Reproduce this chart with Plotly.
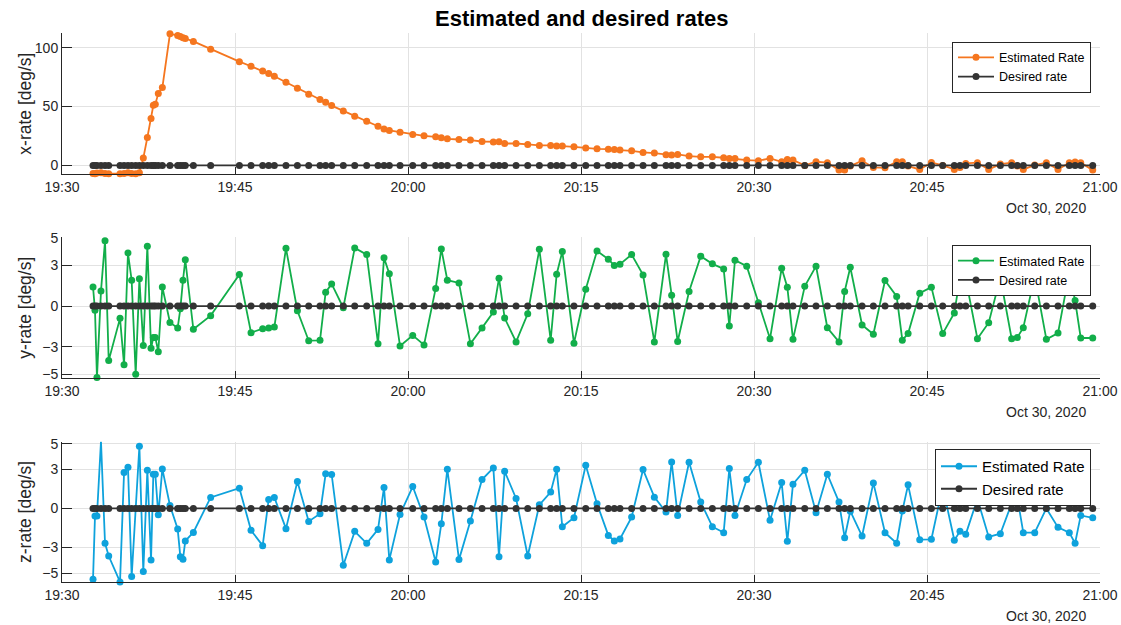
import pandas as pd
import plotly.graph_objects as go

# ---- data (minutes after 19:30 on 2020-10-30) ----
t_min = [2.69, 2.86, 3.03, 3.38, 3.73, 4.05, 5.03, 5.38, 5.72, 6.04, 6.39, 6.71, 7.05, 7.40,
         7.72, 7.92, 8.09, 8.35, 8.70, 9.36, 10.03, 10.26, 10.49, 10.69, 11.39, 12.89, 15.38,
         16.39, 17.40, 17.92, 18.41, 19.42, 20.41, 21.39, 22.37, 22.86, 23.38, 24.39, 25.38,
         26.42, 27.40, 27.92, 28.38, 29.31,
         30.41, 31.39, 32.40, 32.89, 33.41, 34.42, 35.41, 36.42, 37.40, 37.89, 38.38, 39.37,
         40.38, 41.39, 42.37, 42.89, 43.38, 44.39, 45.41, 46.39, 47.37, 47.89, 48.38, 49.39,
         50.38, 51.36, 52.37, 52.86, 53.38, 54.37, 55.38, 56.39, 57.37, 57.86, 58.35,
         59.37, 60.38, 61.39, 62.40, 62.89, 63.38, 64.40, 65.38, 66.36, 67.37, 67.86, 68.35,
         69.37, 70.35, 71.36, 72.37, 72.86, 73.36, 74.37, 75.38, 76.36, 77.37, 77.86, 78.36,
         79.37, 80.35, 81.36, 82.34, 82.83, 83.35, 84.34, 85.35, 86.36, 87.34, 87.84, 88.33,
         89.37]

x_rate = [-6.8, -7.0, -6.5, -6.2, -6.8, -7.0, -7.0, -6.8, -6.2, -6.8, -7.0, -6.2, 6.2, 23.7,
          39.8, 51.0, 52.0, 61.0, 66.1, 111.8, 110.4, 109.4, 108.5, 107.8, 105.3, 98.6, 88.1,
          84.2, 80.2, 78.0, 75.7, 70.6, 65.5, 60.5, 56.0, 53.7, 50.8, 46.3, 41.8, 37.6, 33.3,
          31.0, 29.7, 28.2,
          26.3, 25.1, 24.3, 23.4, 22.6, 22.0, 21.5, 20.3, 19.8, 20.0, 18.6, 18.6, 17.8, 17.0,
          17.0, 16.4, 16.4, 15.8, 14.7, 14.1, 13.8, 13.6, 13.0, 12.4, 11.0, 10.5, 9.0, 8.8,
          9.3, 7.9, 7.3, 7.3, 6.5, 5.9, 5.9,
          4.5, 4.0, 5.9, 3.1, 5.1, 4.5, 0.0, 3.1, 2.3, -4.0, -4.0, -0.6, 4.0, -1.7, -2.0, 3.1,
          3.1, -0.6, -3.4, 2.5, 0.0, -3.4, -1.7, 1.7, 2.3, -3.4, 1.1, 2.3, -0.6, -3.4, 0.3,
          2.3, -3.4, 2.3, 2.8, 2.3, -4.0]

y_rate = [1.4, -0.3, -5.25, 1.1, 4.8, -4.0, -0.9, -4.3, 3.9, 1.9, -5.0, 2.0, -2.9, 4.4, -3.1,
          -2.3, -2.3, -3.35, 1.4, -1.2, -1.6, -0.2, 1.9, 3.4, -1.7, -0.7, 2.32, -1.95, -1.66,
          -1.6, -1.54, 4.24, -0.34, -2.54, -2.51, 1.02, 1.63, -0.12, 4.27, 3.78, -2.76, 3.54,
          2.37, -2.93,
          -2.15, -2.85, 1.3, 4.2, 1.9, 1.7, -2.76, -1.6, -0.44, 2.05, -0.88, -2.63, -0.56,
          4.17, -2.5, 2.34, 4.0, -2.73, 1.24, 4.05, 3.44, 2.98, 3.07, 3.78, 2.29, -2.63, 3.8,
          0.8, -2.6, 1.07, 3.66, 3.1, 2.73, -1.46, 3.37,
          2.93, 0.24, -2.39, 2.78, 1.39, -2.44, 1.46, 2.93, -1.59, -2.63, 1.07, 2.85, -1.39,
          -2.07, 1.88, 0.71, -2.5, -2.02, 0.95, 1.39, -2.02, -0.51, 2.12, 2.0, -2.39, -1.22,
          2.1, -2.39, -2.3, -1.59, 2.2, -2.44, -1.98, 2.5, 0.41, -2.34, -2.34]

z_rate = [-5.46, -0.59, -0.59, 5.18, -2.69, -3.67, -5.67, 2.77, 3.18, -5.26, 0.0, 4.79, -4.87,
          2.95, -3.97, 2.64, 2.64, -0.49, 3.05, 0.23, -1.59, -3.72, -3.92, -2.51, -1.85, 0.85,
          1.56, -1.69, -2.87, 0.69, 0.85, -1.56, 2.08, -1.0, -0.41, 2.67, 2.62, -4.38, -1.77,
          -2.69, -1.62, 1.62, -3.97, -0.46,
          1.69, -0.67, -4.13, -1.18, 3.03, -3.95, -0.97, 2.23, 3.13, -3.72, 2.87, 0.77, -3.67,
          0.28, 1.26, 3.03, -1.41, -0.72, 3.33, 0.36, -2.08, -2.51, -2.36, -0.67, 3.0, 0.87,
          -0.28, 3.59, -0.54, 3.56, 0.49, -1.41, -1.87, 3.08, -0.54,
          2.23, 3.56, -0.92, 2.0, -2.54, 1.87, 2.95, -0.33, 2.64, 0.49, -2.26, -0.21, -2.13,
          1.97, -1.87, -2.69, -0.2, 1.82, -2.41, -2.38, 1.67, -2.46, -1.77, -2.0, 0.74, -2.2,
          -1.95, 0.38, 0.85, -1.87, -1.87, 0.0, -1.46, -1.87, -2.69, -0.54, -0.72]

desired_rate = [0.0] * len(t_min)

y_labels = ["x-rate [deg/s]", "y-rate [deg/s]", "z-rate [deg/s]"]
series_names = ["Estimated Rate", "Desired rate"]
date_label = "Oct 30, 2020"
title_text = "Estimated and desired rates"

start = pd.Timestamp("2020-10-30 19:30:00")
end = pd.Timestamp("2020-10-30 21:00:00")
times = [start + pd.Timedelta(minutes=m) for m in t_min]

# ---- figure ----
W, H = 1121, 625
X0, X1 = 62, 1100
panels = [(33.3, 174.0), (237.3, 378.3), (441.7, 582.3)]
yranges = [[-7.3, 112.2], [-5.3, 5.05], [-5.7, 5.15]]
yticks = [[0, 50, 100], [-5, -3, 0, 3, 5], [-5, -3, 0, 3, 5]]
colors = ["#F5761F", "#12AE4A", "#0EA2DC"]
dark = "#333333"
axis_col = "#262626"
grid_col = "#E2E2E2"
font_family = "Liberation Sans, Arial, sans-serif"

fig = go.Figure()
data = [x_rate, y_rate, z_rate]
legend_names = ["legend", "legend2", "legend3"]
for i in range(3):
    xa = "x" if i == 0 else f"x{i+1}"
    ya = "y" if i == 0 else f"y{i+1}"
    fig.add_trace(go.Scatter(x=times, y=data[i], mode="lines+markers", name=series_names[0],
                             line=dict(color=colors[i], width=1.8),
                             marker=dict(color=colors[i], size=7),
                             xaxis=xa, yaxis=ya, cliponaxis=False, legend=legend_names[i]))
    fig.add_trace(go.Scatter(x=times, y=desired_rate, mode="lines+markers", name=series_names[1],
                             line=dict(color=dark, width=1.8),
                             marker=dict(color=dark, size=7),
                             xaxis=xa, yaxis=ya, cliponaxis=False, legend=legend_names[i]))

layout = dict(width=W, height=H, margin=dict(l=0, r=0, t=0, b=0, autoexpand=False),
              paper_bgcolor="white", plot_bgcolor="white",
              font=dict(family=font_family, color=axis_col, size=14),
              showlegend=True)

annotations = []
for i, (top, bot) in enumerate(panels):
    sfx = "" if i == 0 else str(i + 1)
    layout["xaxis" + sfx] = dict(
        type="date", range=[start, end], dtick=900000, tickformat="%H:%M",
        domain=[X0 / W, X1 / W], anchor="y" + sfx, automargin=False,
        showgrid=True, gridcolor=grid_col, gridwidth=1,
        showline=True, linecolor=axis_col, linewidth=1,
        ticks="inside", ticklen=7, tickcolor=axis_col,
        tickfont=dict(size=14, color=axis_col), zeroline=False, fixedrange=True)
    layout["yaxis" + sfx] = dict(
        range=yranges[i], tickvals=yticks[i], domain=[1 - bot / H, 1 - top / H],
        anchor="x" + sfx, automargin=False,
        showgrid=True, gridcolor=grid_col, gridwidth=1,
        showline=True, linecolor=axis_col, linewidth=1,
        ticks="inside", ticklen=10, tickcolor=axis_col,
        tickfont=dict(size=14, color=axis_col), zeroline=False, fixedrange=True)
    annotations.append(dict(text=y_labels[i], x=25 / W, y=1 - (top + bot) / 2 / H,
                            xref="paper", yref="paper", textangle=-90, showarrow=False,
                            font=dict(size=17.5, color=axis_col), xanchor="center",
                            yanchor="middle"))
    annotations.append(dict(text=date_label, x=1088 / W, y=1 - (bot + 34) / H,
                            xref="paper", yref="paper", showarrow=False,
                            font=dict(size=14, color=axis_col), xanchor="right",
                            yanchor="middle"))

annotations.append(dict(text="<b>" + title_text + "</b>", x=(X0 + X1) / 2 / W, y=1 - 18 / H,
                        xref="paper", yref="paper", showarrow=False,
                        font=dict(size=22, color="#000000"), xanchor="center",
                        yanchor="middle"))
layout["annotations"] = annotations

leg_common = dict(xanchor="right", yanchor="top", bgcolor="white", bordercolor=axis_col,
                  borderwidth=1, itemwidth=36, tracegroupgap=0)
layout["legend"] = dict(leg_common, x=1091 / W, y=1 - 41.7 / H, font=dict(size=12.5, color="#000"))
layout["legend2"] = dict(leg_common, x=1091 / W, y=1 - 245 / H, font=dict(size=12.5, color="#000"))
layout["legend3"] = dict(leg_common, x=1091 / W, y=1 - 449 / H, font=dict(size=15, color="#000"))

fig.update_layout(**layout)
fig.write_html("out.html")
